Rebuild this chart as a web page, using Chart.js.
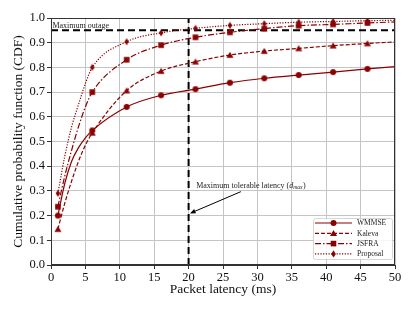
<!DOCTYPE html>
<html>
<head>
<meta charset="utf-8">
<script src="https://cdn.jsdelivr.net/npm/chart.js@4.4.1/dist/chart.umd.min.js"></script>
<style>
  html, body { margin: 0; padding: 0; background: #fff; }
</style>
</head>
<body>
<canvas id="cdf" width="415" height="311"></canvas>
<script>
// latency samples (ms); markers only at the 5 ms spaced ones
const latency = [1, 2, 3, 4, 5, 6, 11, 16, 21, 26, 31, 36, 41, 46, 50];
const markerLatency = [1, 6, 11, 16, 21, 26, 31, 36, 41, 46];

const wmmse    = [0.200, 0.330, 0.420, 0.475, 0.515, 0.545, 0.640, 0.687, 0.712, 0.738, 0.756, 0.769, 0.781, 0.794, 0.803];
const kaleva   = [0.145, 0.250, 0.340, 0.420, 0.485, 0.535, 0.706, 0.785, 0.823, 0.850, 0.866, 0.877, 0.888, 0.897, 0.903];
const jsfra    = [0.236, 0.360, 0.465, 0.560, 0.640, 0.700, 0.831, 0.890, 0.922, 0.942, 0.957, 0.969, 0.974, 0.980, 0.984];
const proposal = [0.290, 0.440, 0.560, 0.650, 0.735, 0.800, 0.904, 0.940, 0.958, 0.970, 0.977, 0.983, 0.986, 0.989, 0.991];

const xTicks = [0, 5, 10, 15, 20, 25, 30, 35, 40, 45, 50];
const yTicks = [0, 0.1, 0.2, 0.3, 0.4, 0.5, 0.6, 0.7, 0.8, 0.9, 1.0];

const maxOutage = 0.95;
const maxLatency = 20;

const RED = "#8b0000";
const SERIF = "'Liberation Serif', 'DejaVu Serif', serif";

function drawMarker(ctx, shape, x, y) {
  ctx.beginPath();
  if (shape === "circle") {
    ctx.arc(x, y, 3, 0, Math.PI * 2);
  } else if (shape === "triangle") {
    ctx.moveTo(x, y - 3.3);
    ctx.lineTo(x + 3.5, y + 2.7);
    ctx.lineTo(x - 3.5, y + 2.7);
    ctx.closePath();
  } else if (shape === "square") {
    ctx.rect(x - 2.8, y - 2.8, 5.6, 5.6);
  } else {
    ctx.moveTo(x, y - 3.6);
    ctx.lineTo(x + 2.3, y);
    ctx.lineTo(x, y + 3.6);
    ctx.lineTo(x - 2.3, y);
    ctx.closePath();
  }
  ctx.fillStyle = RED;
  ctx.fill();
}

function markerImage(shape) {
  const c = document.createElement("canvas");
  c.width = 8;
  c.height = 8;
  drawMarker(c.getContext("2d"), shape, 4, 4);
  return c;
}

function series(label, values, shape, dash) {
  const img = markerImage(shape);
  return {
    label,
    shape,
    data: latency.map((x, i) => ({ x, y: values[i] })),
    borderColor: RED,
    backgroundColor: RED,
    borderWidth: 1.2,
    borderDash: dash,
    cubicInterpolationMode: "monotone",
    pointStyle: img,
    pointRadius: (c) => (markerLatency.includes(latency[c.dataIndex]) ? 3 : 0),
    pointHoverRadius: 0,
  };
}

const refLines = {
  id: "refLines",
  beforeDatasetsDraw(chart) {
    const { ctx, scales: { x, y } } = chart;
    ctx.save();
    ctx.strokeStyle = "#000";
    ctx.lineWidth = 2;
    ctx.setLineDash([7, 4]);
    ctx.beginPath();
    ctx.moveTo(x.getPixelForValue(0), y.getPixelForValue(maxOutage));
    ctx.lineTo(x.getPixelForValue(50), y.getPixelForValue(maxOutage));
    ctx.moveTo(x.getPixelForValue(maxLatency), y.getPixelForValue(0));
    ctx.lineTo(x.getPixelForValue(maxLatency), y.getPixelForValue(1));
    ctx.stroke();
    ctx.restore();
  },
  afterDatasetsDraw(chart) {
    const { ctx, chartArea: a, scales: { x, y } } = chart;
    ctx.save();

    // frame
    ctx.strokeStyle = "#333";
    ctx.lineWidth = 1;
    ctx.strokeRect(a.left + 0.5, a.top + 0.5, a.right - a.left - 1, a.bottom - a.top - 1);

    // texts
    ctx.fillStyle = "#222";
    ctx.font = `8px ${SERIF}`;
    ctx.textBaseline = "alphabetic";
    ctx.fillText("Maximum outage", x.getPixelForValue(0.2), y.getPixelForValue(maxOutage) - 2.5);

    let tx = x.getPixelForValue(21.1);
    const ty = y.getPixelForValue(0.313);
    const part1 = "Maximum tolerable latency (";
    ctx.fillText(part1, tx, ty);
    tx += ctx.measureText(part1).width;
    ctx.font = `italic 8px ${SERIF}`;
    ctx.fillText("d", tx, ty);
    tx += ctx.measureText("d").width;
    ctx.font = `italic 5.5px ${SERIF}`;
    ctx.fillText("max", tx, ty + 1.5);
    tx += ctx.measureText("max").width;
    ctx.font = `8px ${SERIF}`;
    ctx.fillText(")", tx + 0.5, ty);

    // arrow
    const x0 = x.getPixelForValue(27.6), y0 = y.getPixelForValue(0.297);
    const x1 = x.getPixelForValue(20.2), y1 = y.getPixelForValue(0.209);
    const ang = Math.atan2(y1 - y0, x1 - x0);
    ctx.strokeStyle = "#000";
    ctx.lineWidth = 1;
    ctx.beginPath();
    ctx.moveTo(x0, y0);
    ctx.lineTo(x1 - 3 * Math.cos(ang), y1 - 3 * Math.sin(ang));
    ctx.stroke();
    ctx.fillStyle = "#000";
    ctx.beginPath();
    ctx.moveTo(x1, y1);
    ctx.lineTo(x1 - 6 * Math.cos(ang - 0.4), y1 - 6 * Math.sin(ang - 0.4));
    ctx.lineTo(x1 - 6 * Math.cos(ang + 0.4), y1 - 6 * Math.sin(ang + 0.4));
    ctx.closePath();
    ctx.fill();

    // legend
    const bw = 79, bh = 41;
    const bx = a.right - 3 - bw, by = a.bottom - 6 - bh;
    ctx.fillStyle = "rgba(255,255,255,0.85)";
    ctx.strokeStyle = "#cccccc";
    ctx.lineWidth = 0.8;
    ctx.beginPath();
    ctx.roundRect(bx + 0.5, by + 0.5, bw, bh, 2);
    ctx.fill();
    ctx.stroke();
    chart.data.datasets.forEach((ds, i) => {
      const ly = by + 5 + i * 10.3;
      ctx.strokeStyle = RED;
      ctx.lineWidth = 1.2;
      ctx.setLineDash(ds.borderDash);
      ctx.beginPath();
      ctx.moveTo(bx + 2, ly);
      ctx.lineTo(bx + 39, ly);
      ctx.stroke();
      ctx.setLineDash([]);
      drawMarker(ctx, ds.shape, bx + 20.5, ly);
      ctx.fillStyle = "#222";
      ctx.font = `7.5px ${SERIF}`;
      ctx.textBaseline = "middle";
      ctx.fillText(ds.label, bx + 44, ly + 0.5);
    });
    ctx.restore();
  },
};

new Chart(document.getElementById("cdf"), {
  type: "line",
  data: {
    datasets: [
      series("WMMSE", wmmse, "circle", []),
      series("Kaleva", kaleva, "triangle", [4, 2]),
      series("JSFRA", jsfra, "square", [6, 2, 1.5, 2]),
      series("Proposal", proposal, "diamond", [1.2, 1.5]),
    ],
  },
  options: {
    responsive: false,
    animation: false,
    layout: { padding: { top: 18, right: 20, left: 0, bottom: 0 } },
    plugins: {
      legend: { display: false },
      tooltip: { enabled: false },
    },
    scales: {
      x: {
        type: "linear",
        min: 0,
        max: 50,
        afterBuildTicks: (s) => { s.ticks = xTicks.map((v) => ({ value: v })); },
        afterFit: (s) => { s.height = 46; },
        ticks: { color: "#111", font: { family: SERIF, size: 12.5 }, padding: 1, maxRotation: 0 },
        grid: { color: "#c4c4c4", lineWidth: 1, tickLength: 4, tickColor: "#333" },
        border: { color: "#333" },
        title: {
          display: true,
          text: "Packet latency (ms)",
          color: "#111",
          font: { family: SERIF, size: 13.5 },
          padding: { top: 0, bottom: 13 },
        },
      },
      y: {
        min: 0,
        max: 1,
        afterBuildTicks: (s) => { s.ticks = yTicks.map((v) => ({ value: v })); },
        afterFit: (s) => { s.width = 51; },
        ticks: {
          color: "#111",
          font: { family: SERIF, size: 12.5 },
          padding: 2,
          callback: (v) => Number(v).toFixed(1),
        },
        grid: { color: "#c4c4c4", lineWidth: 1, tickLength: 4, tickColor: "#333" },
        border: { color: "#333" },
        title: {
          display: true,
          text: "Cumulative probability function (CDF)",
          color: "#111",
          font: { family: SERIF, size: 13.5 },
          padding: { top: 10, bottom: 0 },
        },
      },
    },
  },
  plugins: [refLines],
});
</script>
</body>
</html>
